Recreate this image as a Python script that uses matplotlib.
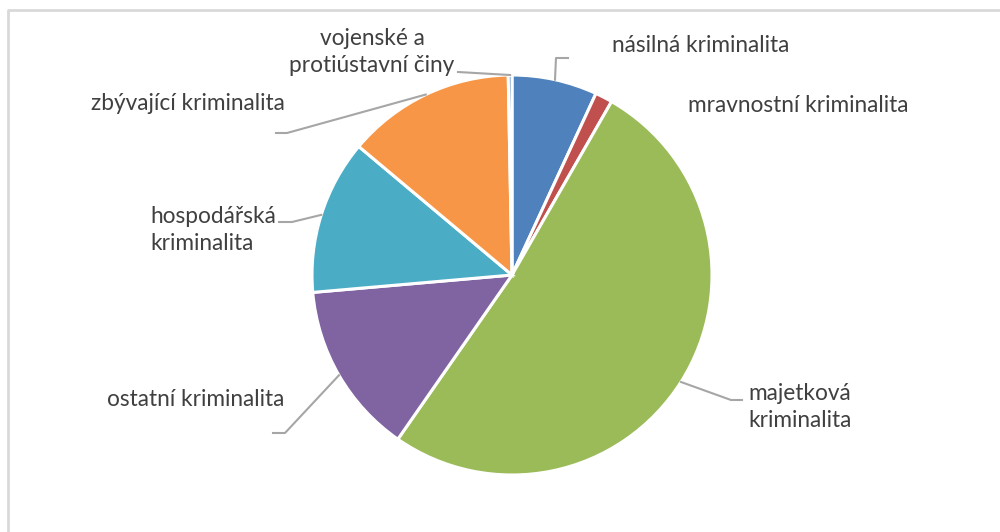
import numpy as np
import matplotlib.pyplot as plt

# Data (share of crimes, %)
categories = ["násilná kriminalita", "mravnostní kriminalita", "majetková\nkriminalita",
              "ostatní kriminalita", "hospodářská\nkriminalita", "zbývající kriminalita",
              "vojenské a\nprotiústavní činy"]
values = [6.9, 1.4, 51.4, 13.95, 12.5, 13.6, 0.3]
colors = ["#4F81BD", "#C0504D", "#9BBB59", "#8064A2", "#4BACC6", "#F79646", "#4F81BD"]

W, H = 1000, 532
fig = plt.figure(figsize=(W / 100, H / 100), dpi=100)
ax = fig.add_axes([0, 0, 1, 1])


def py(y):
    # pixel row (from top) -> data y
    return H - y


cx, cy, r = 512, py(275), 200
wedges, _ = ax.pie(values, colors=colors, startangle=90, counterclock=False,
                   center=(cx, cy), radius=r, frame=True,
                   wedgeprops=dict(edgecolor="white", linewidth=2.2))
ax.set_xlim(0, W)
ax.set_ylim(0, H)
ax.set_aspect("equal")
ax.axis("off")

# chart border (partly cropped)
ax.plot([8, 8, W], [0, py(10), py(10)], color="#d9d9d9", lw=2, clip_on=False)

txt = dict(fontsize=16.3, color="#404040", family=["Lato", "DejaVu Sans"])
line = dict(color="#a6a6a6", lw=1.5)

# label layout: (elbow points in pixels, text x, text y, alignment)
layout = [
    ([(556, 58), (568, 58)], 612, 45, "left"),
    (None, 688, 105, "left"),
    ([(731, 400), (742, 400)], 748, 407, "left"),
    ([(285, 433), (273, 433)], 284, 400, "right"),
    ([(292, 222), (279, 222)], 150, 230, "left"),
    ([(287, 133), (276, 133)], 285, 103, "right"),
    ([(458, 72)], 372, 52, "center"),
]

for w, lab, (pts, tx, ty, ha) in zip(wedges, categories, layout):
    mid = np.deg2rad((w.theta1 + w.theta2) / 2)
    sx, sy = cx + r * np.cos(mid), cy + r * np.sin(mid)
    if pts is not None:
        xs = [sx] + [p[0] for p in pts]
        ys = [sy] + [py(p[1]) for p in pts]
        ax.plot(xs, ys, **line)
    ax.text(tx, py(ty), lab, ha=ha, va="center",
            multialignment="center" if ha == "center" else "left",
            linespacing=1.35, **txt)

fig.savefig("out.png", dpi=100)
